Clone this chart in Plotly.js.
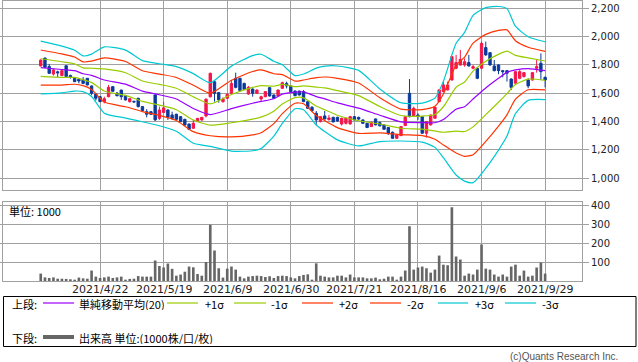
<!DOCTYPE html>
<html><head><meta charset="utf-8">
<script src="https://cdn.plot.ly/plotly-3.0.1.min.js"></script>
<style>html,body{margin:0;padding:0;background:#fff;}</style>
</head><body>
<div id="chart" style="width:638px;height:362px;"></div>
<script>
// ---- data ----
const tickIdx = [14, 29, 44, 59, 74, 89, 104, 119];
const tickLabels = ['2021/4/22','2021/5/19','2021/6/9','2021/6/30','2021/7/21','2021/8/16','2021/9/6','2021/9/29'];

const open  = [1793,1849,1790,1736,1752,1725,1795,1725,1706,1699,1694,1706,1652,1595,1576,1541,1576,1647,1602,1623,
               1583,1541,1543,1565,1506,1470,1470,1588,1423,1465,1482,1447,1452,1435,1416,1383,1353,1400,1412,1440,
               1576,1682,1605,1541,1565,1600,1706,1706,1670,1595,1630,1600,1560,1576,1640,1588,1581,1635,1670,1652,
               1616,1616,1612,1541,1501,1459,1400,1440,1415,1430,1430,1383,1388,1384,1435,1430,1412,1388,1365,1419,
               1393,1377,1358,1325,1282,1301,1372,1600,1440,1447,1435,1318,1377,1424,1541,1612,1624,1694,1777,1800,
               1800,1817,1777,1777,1777,1923,1887,1793,1800,1760,1760,1701,1671,1706,1718,1694,1694,1777,1812,1713];
const high  = [1840,1852,1808,1774,1760,1763,1798,1732,1712,1706,1715,1708,1655,1600,1580,1576,1659,1650,1609,1625,
               1586,1565,1548,1568,1510,1488,1475,1593,1506,1540,1487,1470,1456,1440,1420,1386,1412,1426,1430,1565,
               1746,1690,1610,1572,1600,1694,1746,1710,1675,1652,1635,1628,1583,1616,1645,1592,1626,1682,1682,1658,
               1620,1618,1623,1545,1510,1475,1440,1475,1447,1435,1435,1428,1430,1440,1440,1435,1416,1392,1400,1422,
               1400,1380,1360,1330,1310,1368,1440,1701,1506,1459,1440,1400,1450,1506,1630,1687,1683,1862,1871,1906,
               1847,1871,1800,1783,1965,1965,1890,1835,1805,1765,1765,1705,1757,1770,1750,1706,1750,1835,1882,1718];
const low   = [1790,1780,1738,1725,1713,1722,1715,1703,1680,1670,1666,1656,1586,1548,1538,1529,1572,1612,1578,1553,
               1550,1534,1534,1500,1475,1430,1448,1405,1412,1460,1412,1412,1412,1398,1372,1340,1350,1398,1405,1430,
               1570,1541,1534,1534,1560,1598,1635,1615,1625,1590,1576,1598,1541,1572,1578,1562,1578,1632,1635,1610,
               1580,1585,1538,1490,1470,1377,1395,1415,1406,1395,1398,1372,1380,1378,1408,1410,1385,1355,1362,1374,
               1368,1343,1306,1280,1278,1298,1370,1430,1435,1412,1315,1288,1372,1420,1538,1608,1620,1690,1770,1795,
               1788,1790,1770,1700,1770,1865,1795,1755,1735,1713,1683,1623,1668,1700,1712,1636,1690,1746,1695,1642];
const close = [1835,1783,1741,1765,1745,1760,1718,1713,1682,1687,1670,1659,1600,1565,1541,1562,1642,1614,1583,1576,
               1553,1562,1539,1506,1478,1452,1452,1412,1482,1497,1431,1423,1416,1400,1376,1346,1388,1423,1430,1558,
               1741,1600,1553,1560,1593,1670,1642,1619,1628,1642,1600,1623,1576,1612,1581,1565,1623,1675,1652,1612,
               1583,1588,1541,1494,1478,1412,1435,1419,1426,1398,1405,1423,1423,1435,1412,1418,1388,1358,1395,1377,
               1370,1346,1318,1282,1306,1365,1435,1435,1494,1435,1318,1400,1447,1501,1624,1659,1659,1859,1817,1840,
               1823,1793,1788,1706,1953,1871,1800,1760,1760,1753,1742,1642,1753,1753,1746,1652,1746,1788,1753,1694];
const volume = [39,19,16,19,12,12,11,9,7,18,14,12,55,23,16,19,23,16,19,23,
                7,11,12,26,23,23,23,108,79,71,92,64,28,34,49,76,72,37,28,100,
                296,160,67,18,65,76,60,23,14,23,26,28,26,21,25,16,26,28,26,19,
                14,26,32,35,7,93,28,23,19,19,28,28,19,34,19,19,19,14,14,18,
                9,12,23,23,7,23,55,288,60,71,76,67,44,60,134,86,83,388,129,113,
                28,39,34,60,192,65,60,34,23,34,23,76,86,28,55,23,28,71,97,39];

// Bollinger band readings: sample positions, middle line (20-day SMA) and sigma width
const bandIdx   = [0,5,8,10,12,15,20,24,28,32,36,40,45,50,52,55,57,60,62,65,67,70,75,80,85,90,93,95,98,100,102,105,108,110,112,115,119];
const bandMid   = [1782,1768,1760,1738,1727,1694,1665,1615,1590,1560,1493,1450,1492,1530,1543,1562,1594,1608,1610,1577,1561,1532,1495,1445,1398,1393,1392,1415,1488,1505,1560,1638,1706,1748,1765,1775,1760];
const bandSigma = [62,55,48,42,50,78,80,72,73,76,82,75,100,112,111,88,69,39,42,67,77,87,89,62,45,46,58,90,155,175,197,189,169,150,103,75,68];

// ---- build ----
const idx = close.map((_, i) => i);
const RED = '#f5164a', BLUE = '#0b3a9c';
const bandDefs = [
  {k: 3, color: '#00c8d2'}, {k: -3, color: '#00c8d2'},
  {k: 2, color: '#ff3300'}, {k: -2, color: '#ff3300'},
  {k: 1, color: '#99cc00'}, {k: -1, color: '#99cc00'},
  {k: 0, color: '#9900ff'}
];
const traces = [];
bandDefs.forEach(b => {
  traces.push({
    type: 'scatter', mode: 'lines', x: bandIdx,
    y: bandMid.map((m, j) => m + b.k * bandSigma[j]),
    line: {color: b.color, width: 1.2, shape: 'spline', smoothing: 0.6},
    xaxis: 'x', yaxis: 'y', hoverinfo: 'skip'
  });
});
traces.push({
  type: 'candlestick', x: idx, open: open, high: high, low: low, close: close,
  increasing: {line: {color: RED, width: 1}, fillcolor: RED},
  decreasing: {line: {color: BLUE, width: 1}, fillcolor: BLUE},
  whiskerwidth: 0, xaxis: 'x', yaxis: 'y', hoverinfo: 'skip'
});
traces.push({
  type: 'bar', x: idx, y: volume, width: 0.62,
  marker: {color: '#666666', line: {width: 0}},
  xaxis: 'x', yaxis: 'y2', hoverinfo: 'skip'
});

const L = 3, R = 582, T = 1, B = 281;
const fx = px => (px - L) / (R - L);
const fy = py => (B - py) / (B - T);
const CJK = '"Noto Sans CJK JP", "DejaVu Sans", sans-serif';
const ann = [];
const shapes = [];
function txt(text, px, py, anchor, size, color, fam) {
  ann.push({text: text, x: fx(px), y: fy(py), xref: 'paper', yref: 'paper',
    xanchor: anchor || 'left', yanchor: 'middle', showarrow: false, height: 13,
    font: {size: size || 11, color: color || '#000', family: fam || CJK}});
}
function seg(x0, x1, py, color, w) {
  shapes.push({type: 'line', xref: 'paper', yref: 'paper', x0: fx(x0), x1: fx(x1), y0: fy(py), y1: fy(py),
    line: {color: color, width: w}});
}
// date labels under the volume panel, placed on the shared x axis
tickIdx.forEach((t, j) => {
  ann.push({text: tickLabels[j], x: t, xref: 'x', y: fy(288.5), yref: 'paper',
    xanchor: 'center', yanchor: 'middle', showarrow: false, height: 12,
    font: {size: 11, color: '#222', family: '"DejaVu Sans", sans-serif'}});
});
// legend box
shapes.push({type: 'rect', xref: 'paper', yref: 'paper', x0: fx(3.5), x1: fx(636), y0: fy(346.5), y1: fy(296.5),
  line: {color: '#000', width: 1}, fillcolor: 'rgba(0,0,0,0)'});
txt('上段:', 10, 303);
seg(43, 74, 303, '#9900ff', 1.2);
txt('単純移動平均(20)', 77, 303);
seg(167, 198, 303, '#99cc00', 1.2);
txt('+1σ', 203, 303);
seg(234, 266, 303, '#99cc00', 1.2);
txt('-1σ', 269, 303);
seg(302, 333, 303, '#ff3300', 1.2);
txt('+2σ', 337, 303);
seg(370, 401, 303, '#ff3300', 1.2);
txt('-2σ', 405, 303);
seg(438, 468, 303, '#00c8d2', 1.2);
txt('+3σ', 473, 303);
seg(505, 536, 303, '#00c8d2', 1.2);
txt('-3σ', 540, 303);
txt('下段:', 10, 337);
seg(43, 74, 337, '#666666', 4);
txt('出来高 単位:(1000株/口/枚)', 77, 337);
txt('(c)Quants Research Inc.', 620, 356, 'right', 10, '#555', '"Liberation Sans", Arial, sans-serif');
txt('単位: 1000', 7, 210, 'left', 11, '#000');

const axCommon = {showgrid: true, gridcolor: '#a0a0a0', gridwidth: 1, showline: true, linecolor: '#a0a0a0',
  linewidth: 1, mirror: 'all', zeroline: false, fixedrange: true};
const layout = {
  width: 638, height: 362,
  margin: {l: L, r: 638 - R, t: T, b: 362 - B},
  paper_bgcolor: '#fff', plot_bgcolor: '#fff', showlegend: false,
  boxgap: 0.2,
  xaxis: Object.assign({}, axCommon, {
    domain: [0, 1], anchor: 'y2', range: [-8.9, 127.7],
    tickmode: 'array', tickvals: tickIdx, ticktext: tickLabels, ticks: '', showticklabels: false,
    rangeslider: {visible: false}
  }),
  yaxis: Object.assign({}, axCommon, {
    domain: [fy(190), 1], anchor: 'x', side: 'right', range: [917, 2252],
    tickmode: 'array', tickvals: [1000, 1200, 1400, 1600, 1800, 2000, 2200], tickformat: ',d',
    ticks: 'outside', ticklen: 6, tickcolor: '#a0a0a0',
    tickfont: {size: 10, color: '#222', family: '"DejaVu Sans", sans-serif'}
  }),
  yaxis2: Object.assign({}, axCommon, {
    domain: [0, fy(201.7)], anchor: 'x', side: 'right', range: [0, 417.5],
    tickmode: 'array', tickvals: [100, 200, 300, 400],
    ticks: 'outside', ticklen: 6, tickcolor: '#a0a0a0',
    tickfont: {size: 10, color: '#222', family: '"DejaVu Sans", sans-serif'}
  }),
  annotations: ann, shapes: shapes
};
Plotly.newPlot('chart', traces, layout, {staticPlot: true, displayModeBar: false});
</script>
</body></html>
